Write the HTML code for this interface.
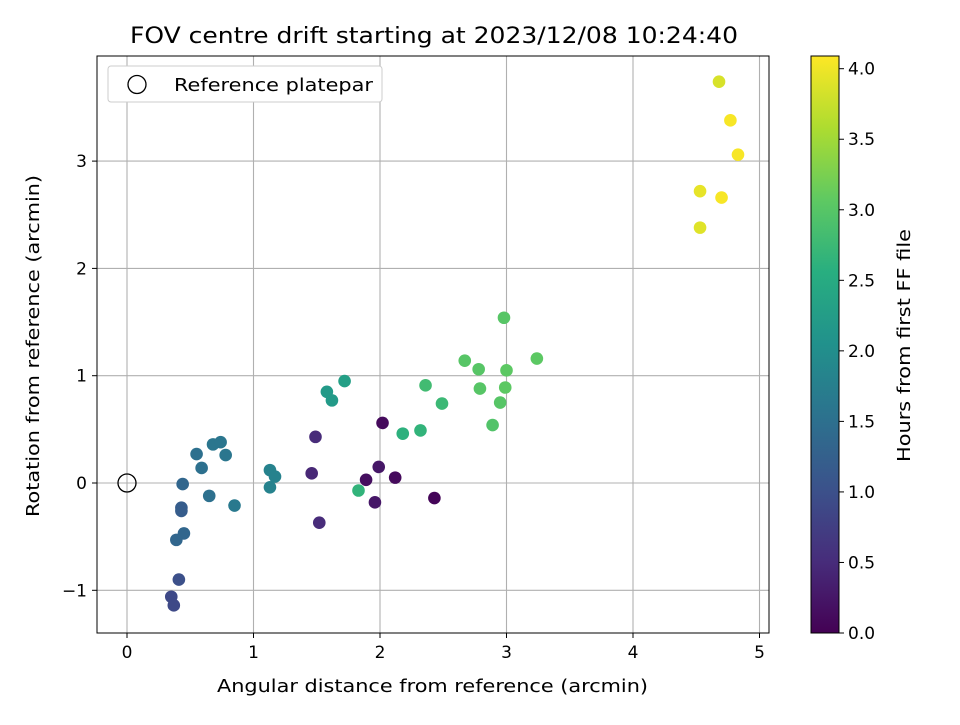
<!DOCTYPE html>
<html><head><meta charset="utf-8"><style>
body{margin:0;background:#fff}
svg text{font-family:"DejaVu Sans","Liberation Sans",sans-serif;fill:#000}
</style></head><body>
<svg width="960" height="720" xmlns="http://www.w3.org/2000/svg" id="chart">
<rect width="960" height="720" fill="#fff"/>
<g id="grid"></g>
<g id="pts"></g>
<rect x="97" y="56" width="672" height="577" fill="none" stroke="#000" stroke-width="1"/>
<g id="ticks"></g>
<text x="130" y="43" font-size="22" textLength="608" lengthAdjust="spacingAndGlyphs">FOV centre drift starting at 2023/12/08 10:24:40</text>
<text x="217" y="692" font-size="18" textLength="431" lengthAdjust="spacingAndGlyphs">Angular distance from reference (arcmin)</text>
<text transform="translate(39,517) rotate(-90)" font-size="18" textLength="342" lengthAdjust="spacingAndGlyphs">Rotation from reference (arcmin)</text>
<g>
<rect x="108" y="66" width="274" height="36" rx="3" fill="#fff" stroke="#ccc"/>
<circle cx="137" cy="84.5" r="9" fill="none" stroke="#000" stroke-width="1.3"/>
<text x="174" y="91" font-size="18" textLength="199" lengthAdjust="spacingAndGlyphs">Reference platepar</text>
</g>
<defs><linearGradient id="vir" x1="0" y1="1" x2="0" y2="0">
<stop offset="0" stop-color="#440154"/><stop offset="0.125" stop-color="#472d7b"/><stop offset="0.25" stop-color="#3b528b"/><stop offset="0.375" stop-color="#2c728e"/><stop offset="0.5" stop-color="#21918c"/><stop offset="0.625" stop-color="#28ae80"/><stop offset="0.75" stop-color="#5ec962"/><stop offset="0.875" stop-color="#addc30"/><stop offset="1" stop-color="#fde725"/>
</linearGradient></defs>
<rect x="811" y="56" width="28" height="577" fill="url(#vir)" stroke="#000" stroke-width="1"/>
<g id="cbt"></g>
<text transform="translate(910,462) rotate(-90)" font-size="18" textLength="233" lengthAdjust="spacingAndGlyphs">Hours from first FF file</text>
</svg>
<script>
const xs=[4.68,4.77,4.83,4.53,4.70,4.53,2.98,3.24,2.67,2.78,3.00,2.79,2.99,2.95,2.89,2.36,2.49,2.32,2.18,1.83,1.72,1.58,1.62,2.02,1.49,1.46,1.52,1.89,1.99,1.96,2.12,2.43,1.13,1.17,1.13,0.85,0.68,0.74,0.78,0.55,0.59,0.65,0.44,0.43,0.43,0.45,0.39,0.41,0.35,0.37];
const ys=[3.74,3.38,3.06,2.72,2.66,2.38,1.54,1.16,1.14,1.06,1.05,0.88,0.89,0.75,0.54,0.91,0.74,0.49,0.46,-0.07,0.95,0.85,0.77,0.56,0.43,0.09,-0.37,0.03,0.15,-0.18,0.05,-0.14,0.12,0.06,-0.04,-0.21,0.36,0.38,0.26,0.27,0.14,-0.12,-0.01,-0.23,-0.26,-0.47,-0.53,-0.90,-1.06,-1.14];
const hrs=[3.85,4.05,4.05,3.95,4.05,3.9,3.0,3.05,3.0,3.0,3.05,3.0,3.05,3.0,2.95,2.8,2.75,2.65,2.6,2.65,2.3,2.2,2.2,0.1,0.5,0.45,0.5,0.15,0.25,0.25,0.1,0.05,1.8,1.8,1.8,1.65,1.6,1.6,1.6,1.5,1.5,1.5,1.35,1.2,1.2,1.35,1.35,1.0,0.9,0.9];
const xTicks=[0,1,2,3,4,5];
const yTicks=[-1,0,1,2,3];
const yTickLabels=["\u22121","0","1","2","3"];
const cTicks=[0,0.5,1,1.5,2,2.5,3,3.5,4];
const X=v=>127+v*126.5, Y=v=>483-v*107.3, C=v=>633-v*(577/4.09);
const vir=[[68,1,84],[72,45,123],[59,82,139],[44,114,142],[33,145,140],[40,174,128],[94,201,98],[173,220,48],[253,231,37]];
function col(h){let t=Math.max(0,Math.min(1,h/4.09))*8,i=Math.min(7,Math.floor(t)),f=t-i,a=vir[i],b=vir[i+1];return `rgb(${a.map((c,k)=>Math.round(c+(b[k]-c)*f)).join(',')})`;}
const NS="http://www.w3.org/2000/svg";
function mk(p,tag,at){const e=document.createElementNS(NS,tag);for(const k in at)e.setAttribute(k,at[k]);p.appendChild(e);return e;}
const g=document.getElementById('grid'),tk=document.getElementById('ticks'),pts=document.getElementById('pts'),cb=document.getElementById('cbt');
xTicks.forEach(v=>{const x=X(v);
const l=mk(g,'line',{x1:x,x2:x,y1:56,y2:633,stroke:'#b0b0b0','stroke-width':1.1});


mk(tk,'line',{x1:x,x2:x,y1:633,y2:638,stroke:'#000'});
const t=mk(tk,'text',{x:x,y:658,'font-size':17,'text-anchor':'middle'});t.textContent=v;

});
yTicks.forEach((v,i)=>{const y=Y(v);
const l=mk(g,'line',{x1:97,x2:769,y1:y,y2:y,stroke:'#b0b0b0','stroke-width':1.1});


mk(tk,'line',{x1:92,x2:97,y1:y,y2:y,stroke:'#000'});
const t=mk(tk,'text',{x:87,y:y+6,'font-size':17,'text-anchor':'end'});t.textContent=yTickLabels[i];

});
xs.forEach((x,i)=>{const c=mk(pts,'circle',{cx:X(x),cy:Y(ys[i]),r:6.3,fill:col(hrs[i])});

});
const r=mk(pts,'circle',{cx:X(0),cy:Y(0),r:9,fill:'none',stroke:'#000','stroke-width':1.3});


cTicks.forEach(v=>{const y=C(v);
mk(cb,'line',{x1:839,x2:844,y1:y,y2:y,stroke:'#000'});
const t=mk(cb,'text',{x:848,y:y+6,'font-size':17});t.textContent=v.toFixed(1);

});
</script>
</body></html>
